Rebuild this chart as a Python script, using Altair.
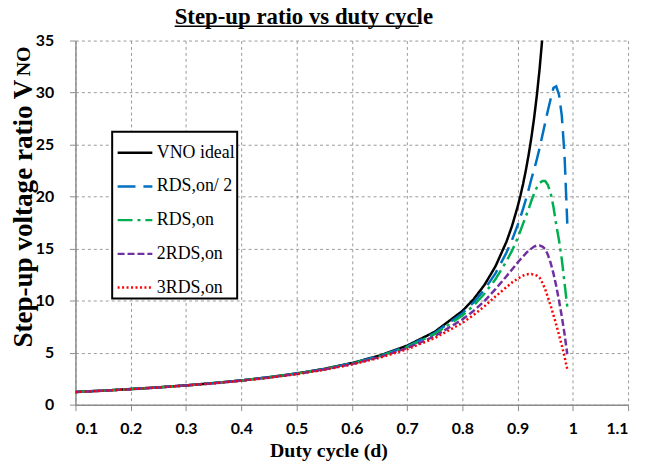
import altair as alt
import pandas as pd

# duty cycle sample points
duty = [0.10, 0.15, 0.20, 0.25, 0.30, 0.35, 0.40, 0.45, 0.50, 0.55, 0.60, 0.65,
        0.70, 0.75, 0.80, 0.82, 0.84, 0.86, 0.88, 0.89, 0.90, 0.905, 0.91, 0.915,
        0.92, 0.925, 0.93, 0.935, 0.94, 0.945, 0.95, 0.955, 0.96, 0.965, 0.97,
        0.975, 0.98, 0.985, 0.99]

# VNO ideal (ends where it leaves the plot at the top)
v_ideal = [1.22, 1.35, 1.50, 1.67, 1.86, 2.08, 2.33, 2.64, 3.00, 3.44, 4.00, 4.71,
           5.67, 7.00, 9.00, 10.11, 11.50, 13.29, 15.67, 17.18, 19.00, 20.05, 21.22,
           22.53, 24.00, 25.67, 27.57, 29.77, 32.33, 35.36]
# RDS,on/ 2
v_half = [1.22, 1.35, 1.50, 1.66, 1.85, 2.07, 2.33, 2.63, 2.99, 3.43, 3.97, 4.68,
          5.60, 6.89, 8.77, 9.80, 11.06, 12.62, 14.62, 15.83, 17.23, 18.00, 18.83,
          19.72, 20.67, 21.69, 22.6, 23.6, 24.7, 25.9, 27.1, 28.3, 29.4, 30.45, 30.6,
          29.8, 27.8, 24.0, 17.4]
# RDS,on
v_one = [1.22, 1.35, 1.50, 1.66, 1.85, 2.07, 2.32, 2.62, 2.98, 3.41, 3.95, 4.64,
         5.54, 6.78, 8.56, 9.51, 10.66, 12.06, 13.8, 14.8, 16.0, 16.7, 17.4, 18.1,
         18.8, 19.6, 20.3, 20.9, 21.3, 21.5, 21.5, 21.1, 20.3, 19.0, 17.3, 15.8,
         14.0, 11.7, 9.4]
# 2RDS,on
v_two = [1.22, 1.35, 1.49, 1.65, 1.84, 2.06, 2.31, 2.60, 2.95, 3.38, 3.90, 4.57,
         5.43, 6.58, 8.18, 9.0, 9.95, 11.1, 12.35, 13.0, 13.65, 13.95, 14.25, 14.55,
         14.8, 15.0, 15.2, 15.3, 15.3, 15.2, 14.95, 14.4, 13.6, 12.6, 11.4, 10.0,
         8.5, 6.8, 4.85]
# 3RDS,on
v_three = [1.21, 1.34, 1.49, 1.65, 1.84, 2.05, 2.30, 2.59, 2.93, 3.35, 3.86, 4.50,
           5.32, 6.40, 7.85, 8.6, 9.45, 10.4, 11.3, 11.75, 12.1, 12.25, 12.4, 12.5,
           12.55, 12.55, 12.5, 12.4, 12.2, 11.7, 11.1, 10.3, 9.5, 8.6, 7.7, 6.7,
           5.7, 4.6, 3.4]

series_names = ["VNO ideal", "RDS,on/ 2", "RDS,on", "2RDS,on", "3RDS,on"]
series_values = [v_ideal, v_half, v_one, v_two, v_three]
series_colors = ["#000000", "#0070C0", "#00B050", "#7030A0", "#FF0000"]
series_dashes = [[1, 0], [18, 8], [15, 5, 3, 5], [7, 3], [2, 2.5]]

x_ticks = [0.1, 0.2, 0.3, 0.4, 0.5, 0.6, 0.7, 0.8, 0.9, 1.0, 1.1]
y_ticks = [0, 5, 10, 15, 20, 25, 30, 35]

chart_title = "Step-up ratio vs duty cycle"
y_title_main = "Step-up voltage ratio V"
y_title_sub = "NO"

rows = []
for name, vals in zip(series_names, series_values):
    for d, v in zip(duty, vals):
        rows.append({"d": d, "v": v, "series": name})
df = pd.DataFrame(rows)

leg = alt.Legend(
    title=None, orient="none", legendX=37, legendY=92,
    symbolType="stroke", symbolSize=1225, symbolStrokeWidth=2.5,
    symbolOffset=2, labelOffset=3,
    labelFont="Liberation Serif", labelFontSize=18, labelColor="black",
    rowPadding=6, padding=2, strokeColor="black", fillColor="white",
)

lines = alt.Chart(df).mark_line(strokeWidth=2.5, clip=True).encode(
    x=alt.X("d:Q",
            scale=alt.Scale(domain=[0.1, 1.1], nice=False, zero=False),
            axis=alt.Axis(values=x_ticks, format="~g", title="Duty cycle (d)",
                          labelPadding=10, titleX=255, titleY=52,
                          titleAlign="center", titleBaseline="alphabetic",
                          titleFontSize=20)),
    y=alt.Y("v:Q",
            scale=alt.Scale(domain=[0, 35], nice=False),
            axis=alt.Axis(values=y_ticks, title=y_title_main,
                          labelPadding=16, titleAngle=270, titleX=-44, titleY=309,
                          titleAlign="left", titleBaseline="alphabetic",
                          titleFontSize=27.3)),
    color=alt.Color("series:N",
                    scale=alt.Scale(domain=series_names, range=series_colors),
                    legend=leg),
    strokeDash=alt.StrokeDash("series:N",
                              scale=alt.Scale(domain=series_names, range=series_dashes),
                              legend=leg),
)

title_text = alt.Chart(pd.DataFrame({"t": [chart_title]})).mark_text(
    font="Liberation Serif", fontWeight="bold", fontSize=23,
    align="left", baseline="alphabetic", color="black"
).encode(text="t:N", x=alt.value(100), y=alt.value(-17))

underline = alt.Chart(pd.DataFrame({"k": [0]})).mark_rule(
    color="black", strokeWidth=1.5
).encode(x=alt.value(100), x2=alt.value(346), y=alt.value(-14.5))

subscript = alt.Chart(pd.DataFrame({"t": [y_title_sub]})).mark_text(
    font="Liberation Serif", fontWeight="bold", fontSize=20, angle=270,
    align="left", baseline="alphabetic", color="black"
).encode(text="t:N", x=alt.value(-46), y=alt.value(36))

chart = alt.layer(lines, title_text, underline, subscript).properties(
    width=557, height=367,
    autosize=alt.AutoSizeParams(type="none"),
    padding={"left": 68, "top": 31, "right": 10, "bottom": 60},
    background="white",
).configure_view(stroke=None).configure_axis(
    labelFont="Lato", labelFontWeight="bold", labelFontSize=16, labelColor="black",
    tickColor="#8c8c8c", tickSize=6, domainColor="#8c8c8c", domainWidth=1.5,
    grid=True, gridDash=[3, 3], gridColor="#9a9a9a", gridWidth=1,
    titleFont="Liberation Serif", titleFontWeight="bold", titleColor="black",
).configure_legend(strokeWidth=2)

chart.save("out.html", embed_options={"renderer": "svg", "actions": False})
